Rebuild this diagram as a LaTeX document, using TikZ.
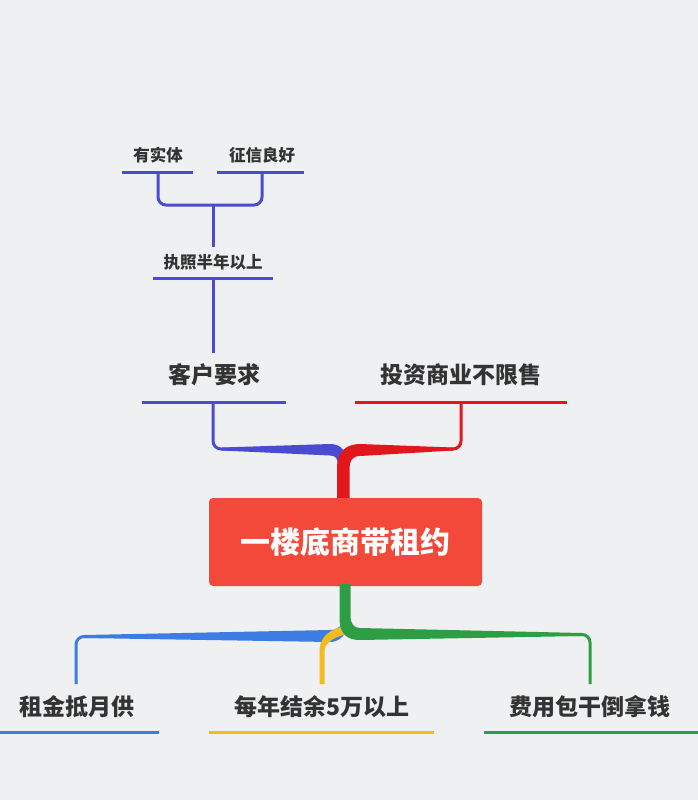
\documentclass[tikz,border=0pt]{standalone}
\usepackage{fontspec}
\setmainfont{Noto Sans CJK SC}
\definecolor{bgc}{HTML}{EEF0F1}
\definecolor{indigoA}{HTML}{4B4BD1}
\definecolor{redA}{HTML}{E3161B}
\definecolor{boxc}{HTML}{F2493A}
\definecolor{blueB}{HTML}{3D7DE3}
\definecolor{yellowA}{HTML}{F4BA1F}
\definecolor{greenA}{HTML}{2E9E44}
\definecolor{txt}{HTML}{333333}
\tikzset{
  small/.style={text=txt, font=\bfseries\fontsize{16.5pt}{18pt}\selectfont, inner sep=0pt},
  mid/.style={text=txt, font=\bfseries\fontsize{23pt}{25pt}\selectfont, inner sep=0pt},
  uline/.style={line width=3pt},
  thin/.style={line width=3pt, rounded corners=8pt},
}
\begin{document}
\begin{tikzpicture}[x=1pt,y=-1pt]
\fill[bgc] (0,0) rectangle (698,800);
\useasboundingbox (0,0) rectangle (698,800);

% ---------- top-left sub tree (indigo) ----------
\node[small] (t1) at (158,155) {有实体};
\node[small] (t2) at (262,155) {征信良好};
\node[small] (t3) at (213,262) {执照半年以上};
\draw[indigoA, uline] (122,172) -- (193,172);
\draw[indigoA, uline] (217,172) -- (304,172);
\coordinate (t1b) at (158,172);
\coordinate (t2b) at (262,172);
\draw[indigoA, thin] (t1b) -- (158,205) -- (262,205) -- (t2b);
\coordinate (bj) at (213,205);
\coordinate (t3t) at (213,247);
\draw[indigoA, uline] (bj) -- (t3t);
\draw[indigoA, uline] (153,278) -- (273,278);
\coordinate (t3b) at (213,278);
\coordinate (c1t) at (213,353);
\draw[indigoA, uline] (t3b) -- (c1t);

% ---------- first level top ----------
\node[mid] (c1) at (214,375) {客户要求};
\node[mid] (c2) at (461,375) {投资商业不限售};
\draw[indigoA, uline] (142,402) -- (286,402);
\draw[redA, uline] (355,402) -- (567,402);

% indigo branch to centre
\coordinate (c1b) at (213,402);
\draw[indigoA, thin] (c1b) -- (213,449) -- (240,449);
\fill[indigoA] (222,447.5) -- (330,444) .. controls (341,444) and (347,451) .. (347,464)
  -- (338,466) .. controls (338,459) and (336,455.5) .. (330,455.5) -- (222,450.5) -- cycle;

% red branch to centre
\coordinate (c2b) at (461,402);
\draw[redA, thin] (c2b) -- (461,449) -- (440,449);
\fill[redA] (337,500) -- (337,468) .. controls (337,452) and (346,444) .. (360,444)
  -- (453,447.5) -- (453,450.5) -- (360,456) .. controls (352,456) and (349.5,461) .. (349.5,470)
  -- (349.5,500) -- cycle;

% ---------- central node ----------
\node[fill=boxc, rounded corners=4pt, minimum width=273pt, minimum height=88pt,
      text=white, font=\bfseries\fontsize{30pt}{32pt}\selectfont] (root) at (345.5,542) {一楼底商带租约};

% ---------- bottom branches ----------
\node[mid] (b1) at (77,707) {租金抵月供};
\node[mid] (b2) at (322,707) {每年结余5万以上};
\node[mid] (b3) at (590,707) {费用包干倒拿钱};
\draw[blueB, uline] (0,732) -- (159,732);
\draw[yellowA, uline] (209,732) -- (434,732);
\draw[greenA, uline] (484,732) -- (698,732);

% blue
\coordinate (b1t) at (76,684);
\draw[blueB, thin] (b1t) -- (76,636.5) -- (100,636.5);
\fill[blueB] (84,635) -- (330,630) .. controls (338,630) and (342,625) .. (344,620)
  -- (348,628) .. controls (344,637) and (338,642) .. (330,642) -- (84,638) -- cycle;

% yellow
\coordinate (b2t) at (322,684);
\fill[yellowA] (319.5,684) -- (319.5,650) .. controls (319.5,638) and (330,628) .. (346,626)
  -- (348,634) .. controls (336,636) and (325.5,642) .. (324.5,650) -- (324.5,684) -- cycle;

% green
\coordinate (b3t) at (590,684);
\draw[greenA, thin] (b3t) -- (590,634.5) -- (570,634.5);
\fill[greenA] (339.5,584) -- (339.5,618) .. controls (339.5,635) and (348,640) .. (360,640)
  -- (582,636) -- (582,633) -- (360,628) .. controls (354,628) and (350.5,624) .. (350.5,616)
  -- (350.5,584) -- cycle;
\end{tikzpicture}
\end{document}
